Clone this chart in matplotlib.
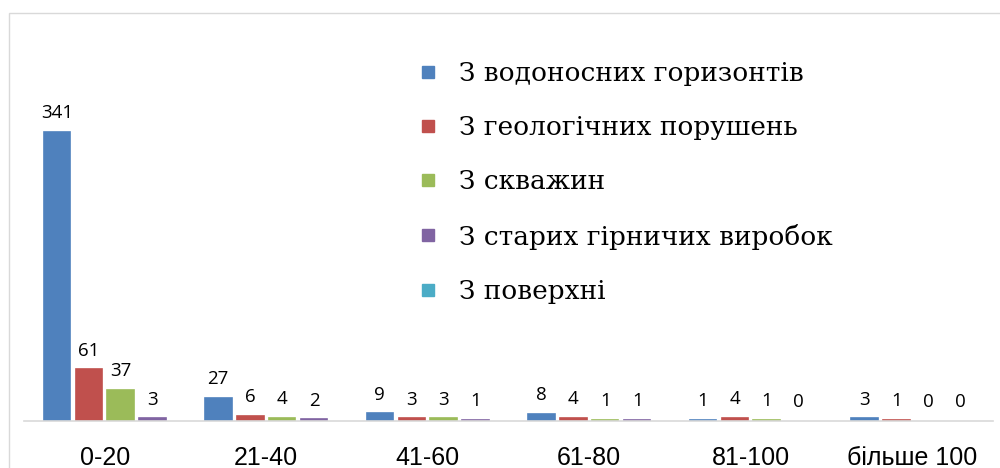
import matplotlib.pyplot as plt
from matplotlib.lines import Line2D
from matplotlib.patches import Rectangle
import numpy as np

# глибина, м
kategorii = ["0-20", "21-40", "41-60", "61-80", "81-100", "більше 100"]

vodonosni = [341, 27, 9, 8, 1, 3]
geologichni = [61, 6, 3, 4, 4, 1]
sverdlovyny = [37, 4, 3, 1, 1, 0]
stari_vyrobky = [3, 2, 1, 1, 0, 0]
poverkhnia = [0, 0, 0, 0, 0, 0]

nazvy = ["З водоносних горизонтів", "З геологічних порушень", "З скважин",
         "З старих гірничих виробок", "З поверхні"]
kolory = ["#4F81BD", "#C0504D", "#9BBB59", "#8064A2", "#4BACC6"]

W, H = 1000, 468
fig = plt.figure(figsize=(W / 100, H / 100), dpi=100)
ax = fig.add_axes([24 / W, 1 - 421 / H, 969 / W, (421 - 13) / H])

# рамка діаграми
fig.patches.append(Rectangle((9 / W, -0.2), 1.2, 1.2 - 13 / H, transform=fig.transFigure,
                             fill=False, edgecolor="#D9D9D9", linewidth=1.0, zorder=0))

x = np.arange(len(kategorii))
shyryna = 0.164
krok = 0.198
ryady = [vodonosni, geologichni, sverdlovyny, stari_vyrobky]
for i, znach in enumerate(ryady):
    pozytsii = x + (i - 1.5) * krok
    for px_, v in zip(pozytsii, znach):
        if v > 0:
            ax.bar(px_, v, width=shyryna, color=kolory[i], edgecolor=kolory[i],
                   linewidth=1.2)
        ax.annotate(str(v), (px_, v), xytext=(0, 7), textcoords="offset points",
                    ha="center", va="bottom", fontsize=13.5, family="Open Sans",
                    color="#000000")

ax.set_xlim(-0.5, len(kategorii) - 0.5)
ax.set_ylim(0, 481)
ax.set_xticks(x)
ax.set_xticklabels(kategorii, fontsize=18, family="Liberation Sans")
ax.tick_params(axis="x", length=0, pad=18)
ax.set_yticks([])
for s in ["top", "left", "right"]:
    ax.spines[s].set_visible(False)
ax.spines["bottom"].set_color("#D9D9D9")
ax.spines["bottom"].set_linewidth(1.2)
ax.patch.set_alpha(0)

ruchky = [Line2D([], [], marker="s", linestyle="none", markersize=8,
                 markerfacecolor=k, markeredgecolor=k) for k in kolory]
leg = fig.legend(ruchky, nazvy, loc="upper left", bbox_to_anchor=(391 / W, 1 - 37 / H),
                 frameon=False, prop={"family": "DejaVu Serif", "size": 19},
                 handlelength=1.0, handletextpad=0.67, labelspacing=1.11)

fig.savefig("out.png", dpi=100)
